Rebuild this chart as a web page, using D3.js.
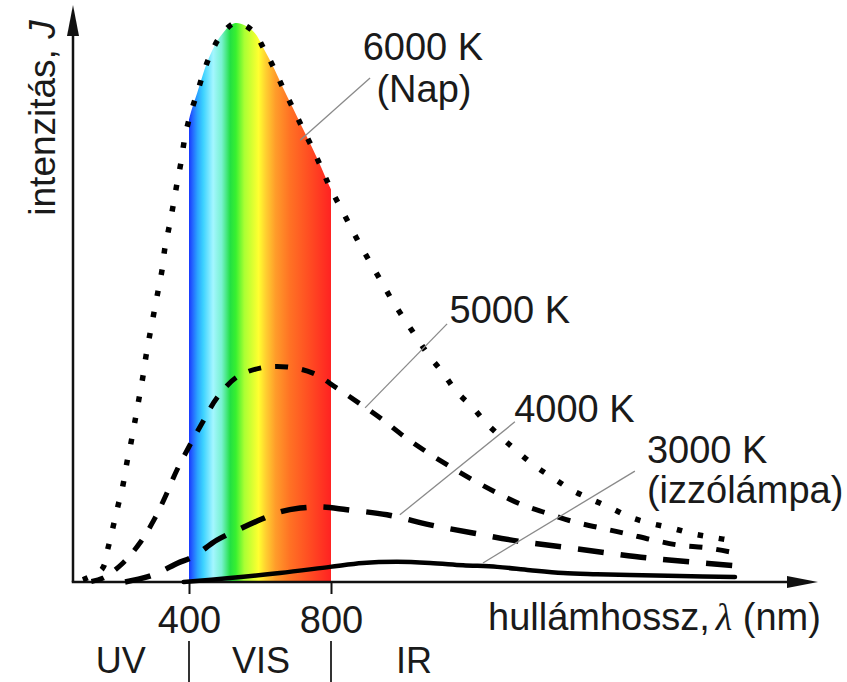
<!DOCTYPE html>
<html><head><meta charset="utf-8">
<script src="https://cdn.jsdelivr.net/npm/d3@7"></script>
<style>
html,body{margin:0;padding:0;background:#fff;}
svg{display:block;background:#fff;}
text{font-family:"Liberation Sans",Arial,Helvetica,sans-serif;fill:#1a1a1a;}
</style></head><body>
<svg id="chart" width="847" height="682"></svg>
<script>
// ---------- data (wavelength nm, relative intensity) ----------
const tickValues = [400, 800];
const tickLabels = ["400", "800"];
const bandLabels = ["UV", "VIS", "IR"];
const bandCenters = [208, 603, 1034];
const bandEdges = [400, 800];

const curve6000 = [[101,0.4],[155,2.3],[172,6.1],[186,9.8],[200,13.6],[214,17.3],[225,21.3],[237,25.0],[248,28.8],[259,32.7],[270,36.6],[279,40.4],[290,44.3],[301,48.0],[313,52.0],[324,55.7],[332,59.6],[344,63.4],[355,67.1],[366,71.1],[377,74.8],[389,79.6],[406,84.0],[423,87.3],[439,90.6],[459,94.0],[487,97.3],[530,99.8],[580,98.4],[611,95.2],[639,91.8],[665,88.2],[693,84.6],[718,81.3],[746,77.7],[772,74.1],[797,70.5],[825,67.1],[854,63.6],[882,60.2],[913,56.8],[944,53.4],[975,50.0],[1008,46.8],[1042,43.6],[1076,40.4],[1116,37.3],[1152,34.1],[1197,31.3],[1237,28.4],[1282,25.7],[1327,23.2],[1375,20.7],[1425,18.6],[1479,16.4],[1532,14.8],[1589,13.2],[1642,11.6],[1699,10.5],[1761,9.6],[1820,8.6],[1882,7.9],[1938,7.3]];
const curve5000 = [[125,0.1],[158,0.7],[214,3.4],[262,7.0],[304,11.4],[335,15.5],[366,20.0],[403,24.5],[439,28.6],[479,32.9],[535,36.6],[600,38.2],[676,38.4],[749,37.3],[817,34.6],[887,31.6],[947,28.9],[1008,25.9],[1070,23.2],[1138,20.5],[1200,18.2],[1268,15.9],[1338,13.8],[1408,12.3],[1487,10.7],[1563,9.6],[1634,8.6],[1707,7.5],[1778,6.6],[1859,6.1],[1938,5.2]];
const curve4000 = [[220,0.0],[282,0.9],[318,1.8],[369,3.4],[411,4.5],[479,7.5],[544,9.5],[600,11.1],[656,12.5],[713,13.2],[769,13.4],[845,12.9],[958,12.0],[1079,10.2],[1200,8.75],[1327,7.3],[1454,6.25],[1578,5.2],[1690,4.3],[1811,3.6],[1938,2.9]];
const curve3000 = [[385,0.0],[515,0.7],[656,1.6],[797,2.7],[890,3.4],[986,3.6],[1079,3.4],[1172,3.0],[1268,2.7],[1361,2.1],[1454,1.6],[1549,1.4],[1642,1.25],[1783,1.07],[1938,0.9]];

const seriesNames = ["6000 K", "5000 K", "4000 K", "3000 K"];
const seriesData = [curve6000, curve5000, curve4000, curve3000];
const seriesSubLabels = ["(Nap)", "", "", "(izzólámpa)"];
// annotation anchors (nm, intensity)
const annotLabelPos = [[1059,93.2],[1134,46.25],[1316,28.6],[1690,21.25]];
const annotLeaderFrom = [[910,90.0],[1127,46.1],[1318,28.6],[1656,19.8]];
const annotLeaderTo = [[713,78.9],[896,31.1],[994,12.0],[1228,3.4]];

// ---------- layout ----------
const svg = d3.select("#chart");
const x = d3.scaleLinear().domain([400, 800]).range([189, 331]);
const y = d3.scaleLinear().domain([0, 100]).range([582, 22]);
const axisX0 = 73, axisY0 = 582;
const FS = 38;

// spectrum gradient
const defs = svg.append("defs");
const grad = defs.append("linearGradient").attr("id","spec")
  .attr("gradientUnits","userSpaceOnUse")
  .attr("x1", x(400)).attr("x2", x(800)).attr("y1",0).attr("y2",0);
const stops = [[0,"#1838ff"],[0.025,"#2466ff"],[0.06,"#2aa4ff"],[0.1,"#3cd2ff"],[0.17,"#a4f6ff"],[0.23,"#78f2d0"],[0.29,"#22e044"],[0.33,"#38f030"],[0.39,"#aaff33"],[0.49,"#ffff30"],[0.54,"#ffd030"],[0.61,"#ff9c2a"],[0.71,"#ff7224"],[0.85,"#ff4c22"],[1,"#ff2222"]];
stops.forEach(s => grad.append("stop").attr("offset", s[0]).attr("stop-color", s[1]));
defs.append("clipPath").attr("id","vis").append("rect")
  .attr("x", x(400)).attr("y", 0).attr("width", x(800)-x(400)).attr("height", axisY0);

const curveType = d3.curveCatmullRom.alpha(0.5);
const area = d3.area().x(d=>x(d[0])).y0(y(0)).y1(d=>y(d[1])).curve(curveType);
svg.append("path").datum(curve6000).attr("d", area)
  .attr("fill","url(#spec)").attr("clip-path","url(#vis)");

// axes lines with arrows
const axisG = svg.append("g");
axisG.append("line").attr("x1",axisX0).attr("y1",axisY0).attr("x2",axisX0).attr("y2",30)
  .attr("stroke","#111").attr("stroke-width",2.5);
axisG.append("path").attr("d",`M${axisX0},5 L${axisX0-6},36 L${axisX0+6},36 Z`).attr("fill","#111");
axisG.append("line").attr("x1",axisX0-1.25).attr("y1",axisY0).attr("x2",795).attr("y2",axisY0)
  .attr("stroke","#111").attr("stroke-width",2.5);
axisG.append("path").attr("d",`M818,${axisY0} L787,${axisY0-6} L787,${axisY0+6} Z`).attr("fill","#111");

// x axis ticks
const xAxis = d3.axisBottom(x).tickValues(tickValues).tickFormat((d,i)=>tickLabels[i])
  .tickSizeInner(12).tickSizeOuter(0).tickPadding(12);
const gx = svg.append("g").attr("transform",`translate(0,${axisY0})`).call(xAxis);
gx.select(".domain").remove();
gx.selectAll(".tick line").attr("stroke","#111").attr("stroke-width",2);
gx.selectAll(".tick text").attr("font-size",FS).attr("font-family","Liberation Sans, Arial, sans-serif").attr("fill","#1a1a1a");

// band separators and labels
bandEdges.forEach(e => svg.append("line").attr("x1",x(e)).attr("x2",x(e))
  .attr("y1",641).attr("y2",682).attr("stroke","#333").attr("stroke-width",2));
bandLabels.forEach((t,i) => svg.append("text").attr("x",x(bandCenters[i])).attr("y",673)
  .attr("text-anchor","middle").attr("font-size",36).text(t));

// axis titles
const xt = svg.append("text").attr("x",488).attr("y",630).attr("font-size",FS);
xt.append("tspan").text("hullámhossz,");
xt.append("tspan").attr("font-family","Liberation Serif, Times New Roman, serif").attr("font-style","italic").attr("dx",6).text("λ");
xt.append("tspan").text(" (nm)");
const yt = svg.append("text").attr("transform","translate(55,118) rotate(-90)").attr("text-anchor","middle").attr("font-size",37);
yt.append("tspan").text("intenzitás, ");
yt.append("tspan").attr("font-style","italic").text("J");

// curves
const line = d3.line().x(d=>x(d[0])).y(d=>y(d[1])).curve(curveType);
const styles = [
  {w:5.5, dash:"5.5 16", cap:"butt"},
  {w:5, dash:"13 14", cap:"butt"},
  {w:5.5, dash:"26 17", cap:"butt"},
  {w:4.5, dash:null, cap:"round"}
];
seriesData.forEach((s,i) => {
  const p = svg.append("path").datum(s).attr("d", line).attr("fill","none")
    .attr("stroke","#000").attr("stroke-width",styles[i].w).attr("stroke-linecap",styles[i].cap);
  if (styles[i].dash) p.attr("stroke-dasharray", styles[i].dash);
});

// annotations
seriesNames.forEach((n,i) => {
  svg.append("line")
    .attr("x1", x(annotLeaderFrom[i][0])).attr("y1", y(annotLeaderFrom[i][1]))
    .attr("x2", x(annotLeaderTo[i][0])).attr("y2", y(annotLeaderTo[i][1]))
    .attr("stroke","#8a8a8a").attr("stroke-width",1.3);
  const anchor = i === 0 ? "middle" : "start";
  svg.append("text").attr("x", x(annotLabelPos[i][0])).attr("y", y(annotLabelPos[i][1]))
    .attr("text-anchor", anchor).attr("font-size", FS).text(n);
  if (seriesSubLabels[i]) {
    svg.append("text").attr("x", x(annotLabelPos[i][0]) + (i===0?1:0)).attr("y", y(annotLabelPos[i][1]) + (i===0?42:40))
      .attr("text-anchor", anchor).attr("font-size", FS).text(seriesSubLabels[i]);
  }
});
</script>
</body></html>
